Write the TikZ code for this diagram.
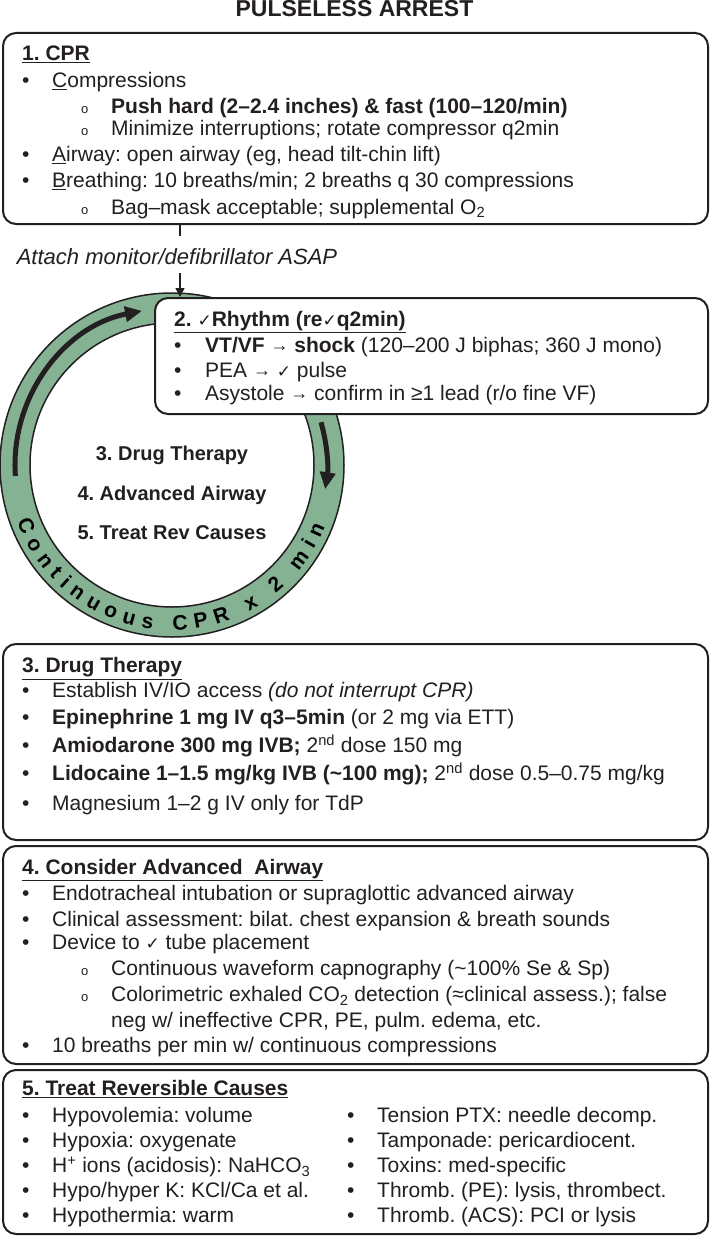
\documentclass[tikz,border=0pt]{standalone}
\usepackage{fontspec}
\setmainfont{Liberation Sans}
\newfontfamily\symfont{DejaVu Sans}
\frenchspacing
\definecolor{ink}{RGB}{35,31,32}
\definecolor{ringgreen}{RGB}{134,178,148}
\usetikzlibrary{arrows.meta, positioning, calc, decorations.text}
\newcommand{\chk}{{\symfont\fontsize{17}{17}\selectfont ✓}}
\newcommand{\rarr}{\raisebox{1pt}{\fontsize{18}{18}\selectfont →}}
\newcommand{\bul}{\makebox[30pt][l]{\textbullet}}
\newcommand{\sbul}{\hspace*{59pt}\makebox[30pt][l]{\fontsize{13}{13}\selectfont o}}
\newcommand{\ringfont}{\bfseries\fontsize{21}{21}\selectfont}
\tikzset{
	panel/.style={rectangle, rounded corners=13pt, draw=ink, fill=white, line width=2pt, anchor=north west, inner sep=0pt},
	listtext/.style={anchor=north west, align=left, inner sep=0pt, text=ink, font=\fontsize{21}{26}\selectfont},
	hub/.style={anchor=base, text=ink, font=\bfseries\fontsize{20}{24}\selectfont},
	ring/.style={fill=ringgreen, draw=ink, line width=1.5pt, even odd rule},
	arrow/.style={-{Triangle[length=9pt, width=9pt]}, line width=1.4pt, draw=ink},
	ringarrow/.style={-{Triangle[length=17pt, width=15pt]}, line width=5pt, draw=ink},
}

\begin{document}
\begin{tikzpicture}[x=1pt, y=-1pt]
	\useasboundingbox (0,0) rectangle (709,1236);
	\node[text=ink, font=\bfseries\fontsize{23}{23}\selectfont] (title) at (354.5,9) {PULSELESS ARREST};

	\node[panel, minimum width=705pt, minimum height=191pt] (cpr) at (2,32) {};
	\node[listtext] (cprtext) at (22,45.5) {\textbf{\underline{1. CPR}}\\[1pt]
		\bul\underline{C}ompressions\\
		\sbul\textbf{Push hard (2–2.4 inches) \& fast (100–120/min)}\\[-4pt]
		\sbul Minimize interruptions; rotate compressor q2min\\
		\bul\underline{A}irway: open airway (eg, head tilt-chin lift)\\
		\bul\underline{B}reathing: 10 breaths/min; 2 breaths q 30 compressions\\[1pt]
		\sbul Bag–mask acceptable; supplemental O\textsubscript{2}};

	\coordinate (tick) at (180,236);
	\coordinate (drop) at (180,273);
	\node[text=ink, font=\itshape\fontsize{22}{22}\selectfont, anchor=base] (attach) at (177,264) {Attach monitor/defibrillator ASAP};

	\coordinate (ringc) at (172,465);
	\draw[ring] (ringc) circle[radius=172pt] (ringc) circle[radius=142pt];
	\draw[ringarrow] ($(ringc)+(184:157pt)$) arc[start angle=184, end angle=101, radius=157pt];
	\draw[ringarrow] ($(ringc)+(16:155pt)$) arc[start angle=16, end angle=-9, radius=155pt];
	\path[decorate, decoration={text along path, text={|\ringfont|Continuous CPR x 2 min}, text align=fit to path}]
		($(ringc)+(200:165pt)$) arc[start angle=200, end angle=338, radius=165pt];
	\node[hub] (hubdrug) at (172,460) {3. Drug Therapy};
	\node[hub] (hubairway) at (172,500) {4. Advanced Airway};
	\node[hub] (hubcauses) at (172,539) {5. Treat Rev Causes};

	\node[panel, minimum width=553pt, minimum height=116pt] (rhythm) at (154,297) {};
	\node[listtext] (rhythmtext) at (174,311.5) {\textbf{\underline{2. \chk Rhythm (re\chk q2min)}}\\
		\makebox[31pt][l]{\textbullet}\textbf{VT/VF \rarr\ shock} (120–200 J biphas; 360 J mono)\\[-1pt]
		\makebox[31pt][l]{\textbullet}PEA \rarr\ \chk\ pulse\\[-3pt]
		\makebox[31pt][l]{\textbullet}Asystole \rarr\ confirm in ≥1 lead (r/o fine VF)};

	\draw[line width=1.4pt, draw=ink] (cpr.south -| tick) -- (tick);
	\draw[arrow] (drop) -- (drop |- rhythm.north);

	\node[panel, minimum width=705pt, minimum height=196pt] (drug) at (2,643) {};
	\node[listtext, font=\fontsize{21}{27}\selectfont] (drugtext) at (22,657.5) {\textbf{\underline{3. Drug Therapy}}\\[-2pt]
		\bul Establish IV/IO access \textit{(do not interrupt CPR)}\\
		\bul\textbf{Epinephrine 1 mg IV q3–5min} (or 2 mg via ETT)\\[1pt]
		\bul\textbf{Amiodarone 300 mg IVB;} 2\textsuperscript{nd} dose 150 mg\\[1pt]
		\bul\textbf{Lidocaine 1–1.5 mg/kg IVB (\textasciitilde100 mg);} 2\textsuperscript{nd} dose 0.5–0.75 mg/kg\\[3pt]
		\bul Magnesium 1–2 g IV only for TdP};

	\node[panel, minimum width=705pt, minimum height=218pt] (airway) at (2,845) {};
	\node[listtext] (airwaytext) at (22,859.5) {\textbf{\underline{4. Consider Advanced~ Airway}}\\
		\bul Endotracheal intubation or supraglottic advanced airway\\
		\bul Clinical assessment: bilat. chest expansion \& breath sounds\\[-3pt]
		\bul Device to \chk\ tube placement\\
		\sbul Continuous waveform capnography (\textasciitilde100\% Se \& Sp)\\
		\sbul Colorimetric exhaled CO\textsubscript{2} detection (≈clinical assess.); false\\
		\hspace*{89pt}neg w/ ineffective CPR, PE, pulm. edema, etc.\\[-1pt]
		\bul 10 breaths per min w/ continuous compressions};

	\node[panel, minimum width=705pt, minimum height=164pt] (causes) at (2,1069) {};
	\node[listtext] (causestitle) at (22,1080.5) {\textbf{\underline{5. Treat Reversible Causes}}};
	\node[listtext, font=\fontsize{21}{25}\selectfont] (causesleft) at (22,1107.5) {\bul Hypovolemia: volume\\
		\bul Hypoxia: oxygenate\\
		\bul H\textsuperscript{+} ions (acidosis): NaHCO\textsubscript{3}\\
		\bul Hypo/hyper K: KCl/Ca et al.\\
		\bul Hypothermia: warm};
	\node[listtext, font=\fontsize{21}{25}\selectfont] (causesright) at (347,1107.5) {\bul Tension PTX: needle decomp.\\
		\bul Tamponade: pericardiocent.\\
		\bul Toxins: med-specific\\
		\bul Thromb. (PE): lysis, thrombect.\\
		\bul Thromb. (ACS): PCI or lysis};
\end{tikzpicture}
\end{document}
